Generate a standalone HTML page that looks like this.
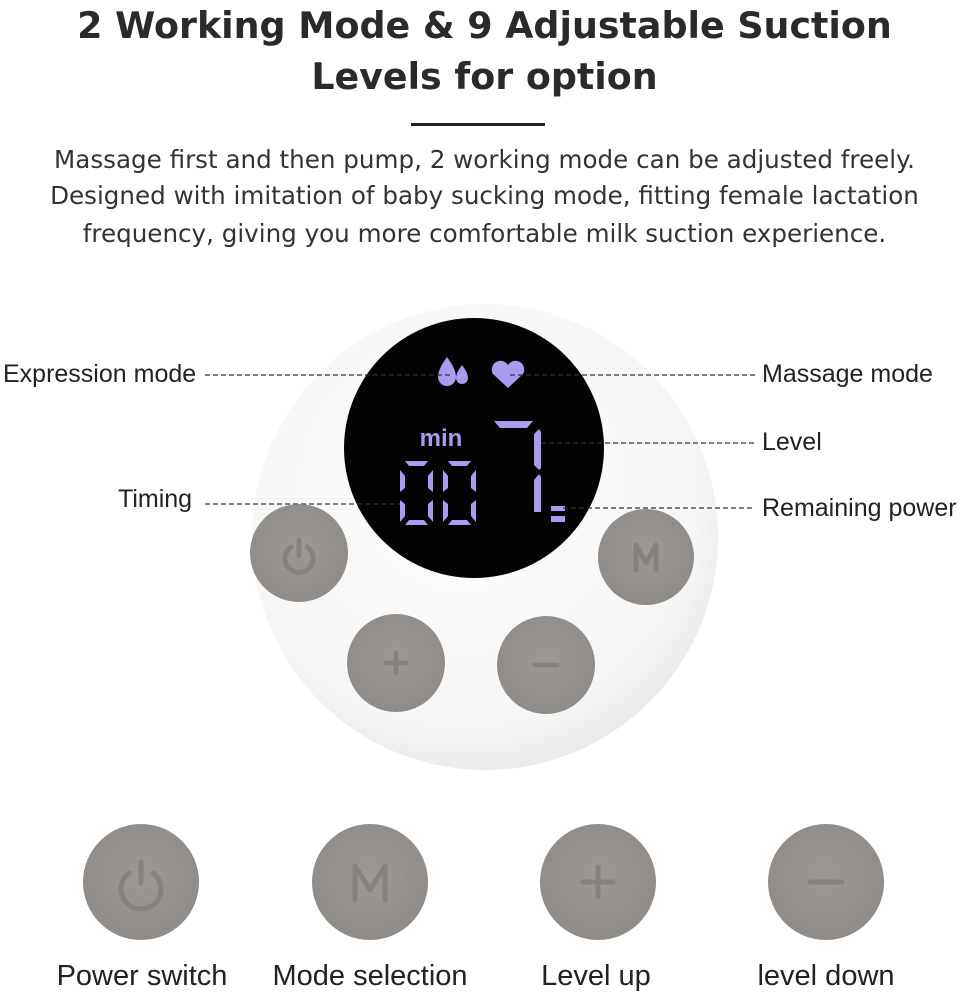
<!DOCTYPE html>
<html><head><style>
body{margin:0;width:969px;height:1000px;background:#fff;overflow:hidden;position:relative;font-family:"Liberation Sans",sans-serif;color:#222}
.t{position:absolute;left:0;width:969px;text-align:center;font-weight:bold;font-size:36.4px;color:#2a2a2a;font-family:"DejaVu Sans",sans-serif}
.p{position:absolute;left:0;width:969px;text-align:center;font-size:24.6px;color:#333;font-family:"DejaVu Sans",sans-serif}
.l{position:absolute;font-size:25px;color:#222;white-space:nowrap}
.b{position:absolute;font-size:29px;color:#222;white-space:nowrap;transform:translateX(-50%)}
</style></head><body>
<div class="t" style="top:4px">2 Working Mode &amp; 9 Adjustable Suction</div>
<div class="t" style="top:55px">Levels for option</div>
<div style="position:absolute;left:411px;top:123px;width:134px;height:3px;background:#222"></div>
<div class="p" style="top:145px">Massage first and then pump, 2 working mode can be adjusted freely.</div>
<div class="p" style="top:181px">Designed with imitation of baby sucking mode, fitting female lactation</div>
<div class="p" style="top:219px">frequency, giving you more comfortable milk suction experience.</div>

<svg width="969" height="1000" style="position:absolute;left:0;top:0">
<defs>
<radialGradient id="g" cx="45%" cy="40%" r="60%"><stop offset="0" stop-color="#fefefe"/><stop offset=".85" stop-color="#f6f6f6"/><stop offset="1" stop-color="#ebebeb"/></radialGradient>
<radialGradient id="bt" cx="50%" cy="45%" r="55%"><stop offset="0" stop-color="#9c9894"/><stop offset="1" stop-color="#8f8b88"/></radialGradient>
</defs>
<circle cx="485" cy="537" r="233" fill="url(#g)"/>
<circle cx="474" cy="448" r="130" fill="#030303"/>
<g fill="#a99cf0">
<path d="M447 357 q-9 12 -9 20 a9 9 0 0 0 18 0 q0 -8 -9 -20z"/>
<path d="M462 365 q-6 8 -6 13 a6 6 0 0 0 12 0 q0 -5 -6 -13z"/>
<path d="M508 388 l-15 -14 a8 8 0 0 1 15 -9 a8 8 0 0 1 15 9z"/>
<text x="441" y="446" font-size="24" font-family="Liberation Sans" font-weight="bold" fill="#a99cf0" text-anchor="middle">min</text>
<g id="d">
<polygon points="405,461 428,461 424,466 409,466"/>
<polygon points="400,470 405,476 405,488 400,492"/>
<polygon points="433,470 428,476 428,488 433,492"/>
<polygon points="400,500 405,504 405,516 400,522"/>
<polygon points="433,500 428,504 428,516 433,522"/>
<polygon points="405,525 409,520 424,520 428,525"/>
</g>
<use href="#d" x="43"/>
<polygon points="494,421 533,421 527,428 500,428"/>
<polygon points="539,429 541,432 541,468 539,470 534,465 534,434"/>
<polygon points="539,474 541,477 541,512 534,512 534,480"/>
<rect x="551" y="506" width="14" height="5"/>
<rect x="551" y="516" width="14" height="6"/>
</g>
<g stroke="#333" stroke-width="1.3" stroke-dasharray="5,3" fill="none">
<line x1="205" y1="375" x2="450" y2="375"/>
<line x1="510" y1="375" x2="755" y2="375"/>
<line x1="541" y1="443" x2="755" y2="443"/>
<line x1="205" y1="504" x2="400" y2="504"/>
<line x1="563" y1="508" x2="755" y2="508"/>
</g>
<g fill="url(#bt)">
<circle cx="299" cy="553" r="49"/><circle cx="646" cy="557" r="48"/>
<circle cx="396" cy="663" r="49"/><circle cx="546" cy="665" r="49"/>
<circle cx="141" cy="882" r="58"/><circle cx="370" cy="882" r="58"/>
<circle cx="598" cy="882" r="58"/><circle cx="826" cy="882" r="58"/>
</g>
<g stroke="#85817e" stroke-width="5" fill="none" stroke-linecap="round" stroke-linejoin="round">
<path d="M291 547 a14 14 0 1 0 16 0"/><line x1="299" y1="540" x2="299" y2="556"/>
<path d="M636 570 v-25 l10 18 l10 -18 v25"/>
<path d="M386 663 h20 M396 653 v20"/>
<path d="M535 665 h22"/>
<path d="M129 873 a20 20 0 1 0 24 0"/><line x1="141" y1="862" x2="141" y2="883"/>
<path d="M355 900 v-34 l15 24 l15 -24 v34"/>
<path d="M583 882 h30 M598 867 v30"/>
<path d="M810 882 h32"/>
</g>
</svg>

<div class="l" style="left:3px;top:360px">Expression mode</div>
<div class="l" style="left:118px;top:485px">Timing</div>
<div class="l" style="left:762px;top:360px">Massage mode</div>
<div class="l" style="left:762px;top:428px">Level</div>
<div class="l" style="left:762px;top:494px">Remaining power</div>

<div class="b" style="left:142px;top:960px">Power switch</div>
<div class="b" style="left:370px;top:960px">Mode selection</div>
<div class="b" style="left:596px;top:960px">Level up</div>
<div class="b" style="left:826px;top:960px">level down</div>
</body></html>
